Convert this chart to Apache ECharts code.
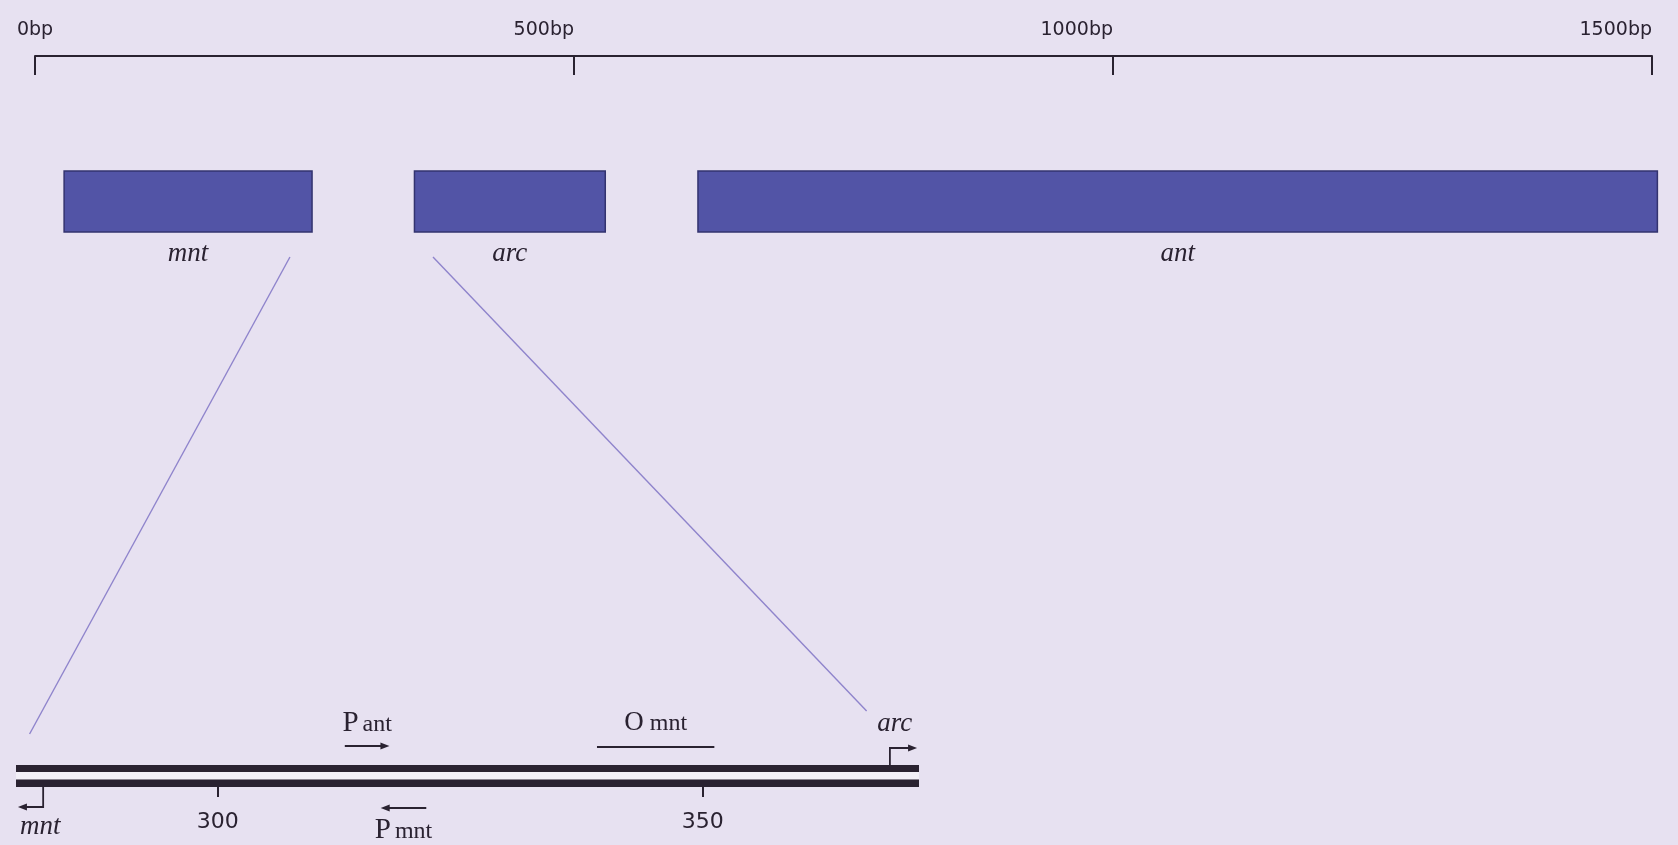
<!DOCTYPE html>
<html>
<head>
<meta charset="utf-8">
<title>mnt-arc-ant region map</title>
<script src="https://cdn.jsdelivr.net/npm/echarts@6/dist/echarts.min.js"></script>
<style>
  html, body { margin: 0; padding: 0; background: #e7e1f1; }
  #chart { width: 1678px; height: 845px; }
</style>
</head>
<body>
<div id="chart"></div>
<script>
// ---- overview map (bp) ----
const mapTicks = [0, 500, 1000, 1500];
const geneNames = ['mnt', 'arc', 'ant'];
const geneStart = [27, 352, 615];
const geneEnd = [257, 529, 1505];

// ---- enlarged detail of the mnt/arc intergenic region (bp) ----
const detailTicks = [300, 350];
const detailRange = [279.2, 372.3];
const promoterNames = ['ant', 'mnt'];
const promoterFrom = [313.1, 321.5];
const promoterTo = [317.7, 316.8];
const operatorName = 'mnt';
const operatorRange = [339.1, 351.2];
const startNames = ['mnt', 'arc'];
const startPos = [282.0, 369.3];
const startArrowTo = [279.4, 372.1];

// zoom guide lines: overview bp -> detail bp
const guideUpper = [236.5, 369.2];
const guideLower = [280.6, 366.9];

const INK = '#2a2231';
const SERIF = '"Liberation Serif", "DejaVu Serif", serif';
const SANS = '"DejaVu Sans", sans-serif';

const chart = echarts.init(document.getElementById('chart'), null, { renderer: 'canvas' });

function arrowHead(x, y, dir) {
  // small filled triangle pointing left (-1) or right (+1)
  return {
    type: 'polygon',
    shape: { points: [[x, y], [x - dir * 9, y - 3.5], [x - dir * 9, y + 3.5]] },
    style: { fill: INK }
  };
}

const option = {
  backgroundColor: '#e7e1f1',
  animation: false,
  grid: [
    { left: 35, right: 26, top: 56, height: 200 },
    { left: 16, right: 759, top: 690, height: 97 }
  ],
  xAxis: [
    {
      gridIndex: 0, type: 'value', position: 'top',
      min: mapTicks[0], max: mapTicks[mapTicks.length - 1], interval: 500,
      axisLine: { show: true, onZero: false, lineStyle: { color: INK, width: 2 } },
      axisTick: { show: true, inside: true, length: 19, lineStyle: { color: INK, width: 2 } },
      axisLabel: {
        show: true, margin: 16, color: INK, fontFamily: SANS, fontSize: 19,
        align: 'right', alignMinLabel: 'center',
        formatter: v => v + 'bp'
      },
      splitLine: { show: false }
    },
    {
      gridIndex: 1, type: 'value', position: 'bottom',
      min: detailRange[0], max: detailRange[1],
      axisLine: { show: false, onZero: false },
      axisTick: { show: true, customValues: detailTicks, length: 10, lineStyle: { color: INK, width: 2 } },
      axisLabel: { show: true, customValues: detailTicks, margin: 24, color: INK, fontFamily: SANS, fontSize: 22 },
      splitLine: { show: false }
    }
  ],
  yAxis: [
    { gridIndex: 0, type: 'value', min: 0, max: 200, inverse: true, show: false },
    { gridIndex: 1, type: 'value', min: 0, max: 97, inverse: true, show: false }
  ],
  series: [
    {
      // gene boxes on the overview map
      type: 'custom', xAxisIndex: 0, yAxisIndex: 0, clip: false,
      data: geneNames.map((g, i) => [geneStart[i], geneEnd[i], i]),
      renderItem: (params, api) => {
        const a = api.coord([api.value(0), 115]);
        const b = api.coord([api.value(1), 176]);
        const name = geneNames[api.value(2)];
        const lab = api.coord([(api.value(0) + api.value(1)) / 2, 198]);
        return {
          type: 'group',
          children: [
            {
              type: 'rect',
              shape: { x: a[0], y: a[1], width: b[0] - a[0], height: b[1] - a[1] },
              style: { fill: '#5254a6', stroke: '#33336f', lineWidth: 1.5 }
            },
            {
              type: 'text', x: lab[0], y: lab[1],
              style: { text: name, fill: INK, font: 'italic 27px ' + SERIF, align: 'center', verticalAlign: 'middle' }
            }
          ]
        };
      }
    },
    {
      // double-stranded DNA of the detail region
      type: 'custom', xAxisIndex: 1, yAxisIndex: 1, clip: false,
      data: [[detailRange[0], detailRange[1]]],
      renderItem: (params, api) => {
        const t1 = api.coord([api.value(0), 75]);
        const t2 = api.coord([api.value(1), 82]);
        const b1 = api.coord([api.value(0), 89.5]);
        const b2 = api.coord([api.value(1), 97]);
        return {
          type: 'group',
          children: [
            { type: 'rect', shape: { x: t1[0], y: t2[1], width: t2[0] - t1[0], height: b1[1] - t2[1] }, style: { fill: '#f3f0f8' } },
            { type: 'rect', shape: { x: t1[0], y: t1[1], width: t2[0] - t1[0], height: t2[1] - t1[1] }, style: { fill: INK } },
            { type: 'rect', shape: { x: b1[0], y: b1[1], width: b2[0] - b1[0], height: b2[1] - b1[1] }, style: { fill: INK } }
          ]
        };
      }
    },
    {
      // promoters: text and direction arrows
      type: 'custom', xAxisIndex: 1, yAxisIndex: 1, clip: false,
      data: promoterNames.map((p, i) => [promoterFrom[i], promoterTo[i], i]),
      renderItem: (params, api) => {
        const i = api.value(2);
        const top = i === 0;
        const ay = top ? 56 : 118;
        const ty = top ? 33 : 140;
        const a = api.coord([api.value(0), ay]);
        const b = api.coord([api.value(1), ay]);
        const dir = b[0] > a[0] ? 1 : -1;
        const c = api.coord([(api.value(0) + api.value(1)) / 2, ty]);
        return {
          type: 'group',
          children: [
            { type: 'line', shape: { x1: a[0], y1: a[1], x2: b[0] - dir * 6, y2: b[1] }, style: { stroke: INK, lineWidth: 1.8 } },
            arrowHead(b[0], b[1], dir),
            {
              type: 'text', x: c[0], y: c[1],
              style: {
                text: '{p|P}{s|' + promoterNames[i] + '}',
                align: 'center', verticalAlign: 'middle',
                rich: {
                  p: { font: '29px ' + SERIF, fill: INK, padding: [0, 4, 0, 0] },
                  s: { font: '24px ' + SERIF, fill: INK, padding: [4, 0, 0, 0] }
                }
              }
            }
          ]
        };
      }
    },
    {
      // operator
      type: 'custom', xAxisIndex: 1, yAxisIndex: 1, clip: false,
      data: [[operatorRange[0], operatorRange[1]]],
      renderItem: (params, api) => {
        const a = api.coord([api.value(0), 57]);
        const b = api.coord([api.value(1), 57]);
        const c = api.coord([(api.value(0) + api.value(1)) / 2, 33]);
        return {
          type: 'group',
          children: [
            { type: 'line', shape: { x1: a[0], y1: a[1], x2: b[0], y2: b[1] }, style: { stroke: INK, lineWidth: 1.8 } },
            {
              type: 'text', x: c[0], y: c[1],
              style: {
                text: '{p|O}{s|' + operatorName + '}',
                align: 'center', verticalAlign: 'middle',
                rich: {
                  p: { font: '27px ' + SERIF, fill: INK, padding: [0, 6, 0, 0] },
                  s: { font: '24px ' + SERIF, fill: INK, padding: [2, 0, 0, 0] }
                }
              }
            }
          ]
        };
      }
    },
    {
      // transcription starts (bent arrows) with gene names
      type: 'custom', xAxisIndex: 1, yAxisIndex: 1, clip: false,
      data: startNames.map((g, i) => [startPos[i], startArrowTo[i], i]),
      renderItem: (params, api) => {
        const i = api.value(2);
        const lower = i === 0;
        const y0 = lower ? 97 : 75;
        const y1 = lower ? 117 : 58;
        const p0 = api.coord([api.value(0), y0]);
        const p1 = api.coord([api.value(0), y1]);
        const p2 = api.coord([api.value(1), y1]);
        const dir = p2[0] > p1[0] ? 1 : -1;
        const c = api.coord([lower ? api.value(0) - 0.3 : api.value(0) + 0.5, lower ? 137 : 34]);
        return {
          type: 'group',
          children: [
            { type: 'polyline', shape: { points: [p0, p1, [p2[0] - dir * 6, p2[1]]] }, style: { stroke: INK, lineWidth: 1.8, fill: null } },
            arrowHead(p2[0], p2[1], dir),
            {
              type: 'text', x: c[0], y: c[1],
              style: { text: startNames[i], fill: INK, font: 'italic 27px ' + SERIF, align: 'center', verticalAlign: 'middle' }
            }
          ]
        };
      }
    }
  ]
};

chart.setOption(option);

// guide lines linking the overview map to the enlarged region
const guides = guideUpper.map((u, i) => {
  const p = chart.convertToPixel({ xAxisIndex: 0, yAxisIndex: 0 }, [u, 201]);
  const q = chart.convertToPixel({ xAxisIndex: 1, yAxisIndex: 1 }, [guideLower[i], i === 0 ? 44 : 21]);
  return {
    type: 'line',
    shape: { x1: p[0], y1: p[1], x2: q[0], y2: q[1] },
    style: { stroke: '#8f84cc', lineWidth: 1.4 },
    z: 1
  };
});
chart.setOption({ graphic: guides });
</script>
</body>
</html>
